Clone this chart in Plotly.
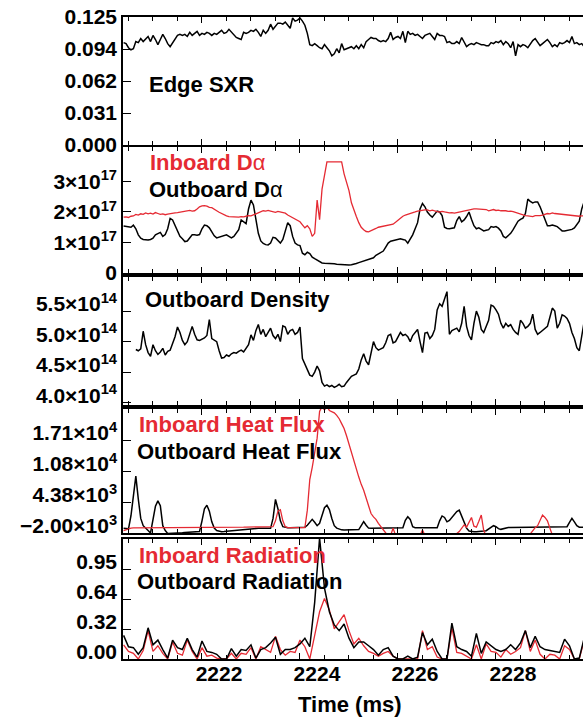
import numpy as np
import plotly.graph_objects as go
from plotly.subplots import make_subplots

# ---------------- data ----------------
T0 = 2220.40
DT_FINE = 0.05
DT_COARSE = 0.10
DENS_T0 = 2220.65

edge_sxr = [
    0.100,0.099,0.095,0.093,0.094,0.101,0.100,0.104,0.101,0.104,
    0.106,0.101,0.107,0.103,0.098,0.103,0.108,0.104,0.099,0.096,
    0.100,0.104,0.107,0.108,0.107,0.108,0.106,0.110,0.107,0.109,
    0.111,0.107,0.109,0.108,0.110,0.109,0.107,0.109,0.108,0.110,
    0.112,0.109,0.110,0.113,0.110,0.107,0.105,0.104,0.103,0.110,
    0.109,0.110,0.112,0.111,0.113,0.110,0.106,0.112,0.109,0.112,
    0.118,0.113,0.116,0.119,0.119,0.118,0.120,0.117,0.114,0.124,
    0.121,0.122,0.124,0.121,0.117,0.109,0.098,0.097,0.099,0.097,
    0.095,0.094,0.098,0.095,0.092,0.087,0.089,0.094,0.090,0.099,
    0.093,0.094,0.095,0.096,0.094,0.097,0.094,0.098,0.095,0.101,
    0.103,0.105,0.104,0.104,0.102,0.101,0.102,0.101,0.104,0.110,
    0.103,0.105,0.106,0.104,0.111,0.100,0.111,0.108,0.109,0.107,
    0.108,0.106,0.104,0.107,0.108,0.109,0.106,0.103,0.109,0.107,
    0.107,0.106,0.100,0.101,0.099,0.099,0.101,0.099,0.105,0.100,
    0.096,0.098,0.099,0.098,0.100,0.099,0.098,0.098,0.097,0.097,
    0.100,0.099,0.101,0.100,0.102,0.098,0.101,0.099,0.095,0.101,
    0.087,0.098,0.096,0.098,0.097,0.095,0.099,0.102,0.104,0.100,
    0.097,0.099,0.101,0.103,0.100,0.096,0.098,0.096,0.100,0.099,
    0.100,0.102,0.100,0.106,0.099,0.100,0.098,0.099,0.096,
]

# D-alpha in units of 1e17
inboard_dalpha = [
    1.83,1.84,1.82,1.86,1.87,1.92,1.90,1.94,1.92,1.97,
    1.94,1.96,1.93,1.98,1.95,1.92,1.94,1.91,1.93,1.95,
    1.96,1.97,1.98,1.99,2.00,2.02,2.04,2.05,2.03,2.04,
    2.10,2.17,2.20,2.21,2.19,2.15,2.14,2.10,2.04,1.99,
    1.95,1.90,1.87,1.85,1.84,1.83,1.84,1.83,1.85,1.84,
    1.86,1.88,1.87,1.90,1.93,1.97,2.01,2.04,2.03,2.05,
    2.03,2.00,1.99,2.02,2.00,1.97,1.96,1.90,1.86,1.82,
    1.78,1.74,1.68,1.58,1.48,1.55,1.45,1.20,1.30,2.39,
    1.75,2.75,3.20,3.64,3.64,3.64,3.64,3.64,3.64,3.64,
    3.25,2.95,2.70,2.30,2.05,1.85,1.65,1.50,1.42,1.36,
    1.35,1.38,1.42,1.46,1.50,1.52,1.54,1.55,1.56,1.58,
    1.60,1.66,1.73,1.80,1.86,1.90,1.92,1.95,1.98,2.00,
    2.03,2.05,2.06,2.07,2.07,2.04,2.06,2.03,2.01,2.00,
    2.02,2.00,1.98,1.97,1.98,1.96,1.98,2.00,2.02,2.04,
    2.06,2.08,2.09,2.10,2.10,2.10,2.09,2.10,2.08,2.04,
    2.07,2.08,2.05,2.06,2.04,2.05,2.04,2.02,2.03,2.01,
    1.98,1.96,1.92,1.90,1.88,1.87,1.86,1.85,1.88,1.87,
    1.88,1.90,1.92,1.95,1.94,1.97,1.95,1.94,1.92,1.91,
    1.90,1.89,1.88,1.87,1.86,1.87,1.86,1.87,1.88,
]
outboard_dalpha = [
    1.54,1.52,1.50,1.50,1.57,1.45,1.25,1.14,1.10,1.08,
    1.08,1.10,1.14,1.25,1.30,1.33,1.20,1.26,1.45,1.79,
    1.74,1.55,1.40,1.20,1.12,1.03,1.05,1.15,1.25,1.25,
    1.24,1.26,1.45,1.57,1.55,1.48,1.35,1.22,1.15,1.17,
    1.20,1.23,1.25,1.20,1.15,1.20,1.30,1.42,1.74,1.68,
    1.62,2.10,2.39,2.23,1.70,1.30,1.05,0.97,0.93,0.92,
    0.98,1.17,1.15,1.08,0.98,1.10,1.35,1.65,1.55,1.20,
    0.98,0.92,0.90,0.65,0.60,0.68,0.64,0.52,0.47,0.42,
    0.36,0.33,0.32,0.32,0.31,0.30,0.30,0.29,0.28,0.27,
    0.27,0.26,0.26,0.27,0.28,0.31,0.34,0.37,0.40,0.43,
    0.45,0.47,0.50,0.58,0.62,0.68,0.72,0.85,0.98,1.04,
    1.06,1.10,1.10,1.12,1.10,1.08,0.98,1.10,1.25,1.45,
    1.65,2.10,2.28,2.17,2.00,1.90,1.83,1.93,2.03,2.00,
    1.88,1.50,1.46,1.45,1.46,1.48,1.72,1.85,1.68,1.74,
    1.85,2.00,1.76,1.55,1.45,1.48,1.43,1.38,1.40,1.42,
    1.52,1.50,1.52,1.47,1.38,1.20,1.15,1.22,1.30,1.42,
    1.58,1.70,1.76,1.80,1.95,2.42,2.35,2.30,2.33,2.33,
    2.17,1.95,1.75,1.55,1.55,1.57,1.55,1.52,1.45,1.38,
    1.38,1.40,1.42,1.43,1.48,1.58,1.70,2.10,2.34,
]

# Outboard density in units of 1e14
outboard_density = [
    4.87,4.85,4.88,5.17,4.95,4.82,4.76,4.95,4.85,4.79,
    4.83,4.89,4.78,4.84,4.86,4.98,5.08,5.24,5.15,5.02,
    4.95,5.00,5.12,5.25,5.12,5.03,5.02,5.04,5.06,5.10,
    5.36,5.05,5.02,5.00,4.85,4.73,4.74,4.78,4.76,4.80,
    4.82,4.81,4.84,4.86,4.83,4.90,4.95,5.11,5.02,5.18,
    5.28,5.12,5.20,5.08,5.15,5.22,5.10,5.05,5.12,5.00,
    5.26,5.24,5.12,5.18,5.20,5.12,5.15,5.24,4.72,4.62,
    4.52,4.45,4.43,4.50,4.60,4.52,4.33,4.27,4.29,4.26,
    4.28,4.25,4.27,4.30,4.26,4.27,4.33,4.39,4.43,4.45,
    4.47,4.55,4.70,4.80,4.68,4.62,4.82,5.00,4.90,4.86,
    4.88,4.90,4.98,5.10,5.12,4.98,5.00,5.08,5.15,5.10,
    5.12,5.08,5.00,5.10,5.16,5.20,5.00,4.82,5.14,5.15,
    5.05,5.10,5.20,5.52,5.62,5.58,5.70,5.82,5.12,5.18,
    5.20,5.22,5.16,5.30,5.58,5.25,5.10,5.03,5.30,5.50,
    5.40,5.20,5.15,5.25,5.35,5.60,5.58,5.52,5.45,5.30,
    5.22,5.30,5.25,5.28,5.20,5.15,5.12,5.35,5.30,5.22,
    5.25,5.30,5.45,5.20,5.12,5.15,5.18,5.22,5.25,5.40,
    5.55,5.50,5.22,5.30,5.44,5.42,5.38,5.30,5.15,5.05,
    4.90,4.85,5.10,5.33,
]

inboard_heat_flux = [
    -1500,-1300,-1100,-1000,-950,-950,-950,-950,-950,-950,
    -950,-950,-950,-950,-950,-950,-950,-950,-950,-950,
    -950,-950,-950,-950,-950,-950,-950,-950,-950,-950,
    -950,-950,-930,-930,-930,-920,-920,-920,-910,-910,
    -900,-900,-900,-880,-870,-860,-850,-840,-830,-800,
    -780,-750,-750,-750,-750,-750,-750,-750,-750,-750,
    -750,-700,500,2500,2800,500,-700,-900,-900,-900,
    -900,-900,-900,-900,-900,2700,9000,11500,14500,17500,
    23000,24000,23300,24000,23200,23000,22700,22200,21500,20500,
    19500,18000,16200,14500,12800,11200,9500,8000,6800,5200,
    3500,2000,1300,800,0,-700,-1500,-2000,-2300,-2500,
    -1000,-2500,-2600,-2600,-2600,-2600,-2600,-2600,-2600,-2600,
    -2600,-2500,-1380,-2500,-2600,-2600,-2600,-2600,-2600,-2600,
    -2600,-2600,-2600,-2600,-2500,-2300,-2100,-1700,-1000,-350,
    -800,300,1200,-600,-800,400,1700,-1500,-2600,-2600,
    -2600,-2600,-2600,-2600,-2600,-2600,-2600,-2600,-2600,-2600,
    -2600,-2600,-2600,-2600,-2600,-2600,-2200,-1500,-900,-500,
    800,1700,1200,500,-1000,-2400,-2600,-2600,-2600,-2600,
    -2600,-2600,-2600,-2600,-2600,-2600,-2600,-2600,-2600,
]
outboard_heat_flux = [
    -1040,-1100,-1150,1500,5500,9700,5000,1000,-500,-1100,
    -1500,-2000,500,3500,4600,3600,-500,-1500,-2100,-2100,
    -2100,-2100,-2050,-2000,-1950,-1900,-1850,-1800,-1780,-1750,
    -1720,-1700,500,3000,3700,2500,300,-1000,-1500,-1650,
    -1720,-1700,-1650,-1600,-1550,-1500,-1450,-1400,-1350,-1300,
    -1250,-1100,-1050,-1050,-1040,-1040,-1040,-1040,-1040,-1040,
    -1040,1000,4900,3000,500,-700,-850,-900,-900,-900,
    -900,-900,-900,-850,-800,-400,300,800,200,-500,
    0,1800,3200,3700,2800,1000,-500,-1000,-1250,-1350,
    -1380,-1380,-1380,-1380,-1380,-1380,-1300,-500,330,-400,
    -1000,-1040,-1040,-1040,-1040,-1040,-1040,-1040,-1040,-1040,
    -1040,-1040,-1040,-1040,-900,600,1350,800,-700,-900,
    -900,-900,-900,-900,-900,-900,-900,-900,-900,500,
    1500,1200,300,600,1200,2000,2400,2700,1500,0,
    -1000,-1600,-1720,-1720,-1720,-1720,-1700,-1600,-1520,-1200,
    -800,-500,-700,-1100,-1250,-1100,-900,-850,-850,-850,
    -850,-850,-850,-850,-850,-850,-850,-850,-850,-850,
    -850,-850,-850,-850,-850,-850,-850,-850,-850,-850,
    -850,-700,200,1000,300,-500,-800,-850,-850,
]

inboard_radiation = [
    0.15,0.08,0.06,0.00,0.09,0.30,0.08,0.14,0.06,0.00,
    0.18,0.06,0.04,0.20,0.08,0.00,0.12,0.03,0.04,0.01,
    0.00,0.00,0.06,0.00,0.06,0.05,0.12,0.00,0.13,0.10,
    0.07,0.24,0.10,0.04,0.08,0.07,0.20,0.13,0.00,0.25,
    0.50,0.64,0.52,0.32,0.39,0.47,0.30,0.16,0.22,0.14,
    0.08,0.06,0.03,0.06,0.08,0.03,0.00,0.00,0.00,0.00,
    0.00,0.30,0.10,0.13,0.02,0.00,0.00,0.33,0.07,0.06,
    0.03,0.00,0.15,0.00,0.16,0.08,0.07,0.02,0.10,0.05,
    0.08,0.12,0.30,0.08,0.20,0.05,0.00,0.05,0.04,0.00,
    0.14,0.10,0.00,0.00,0.20,
]
outboard_radiation = [
    0.25,0.13,0.12,0.05,0.12,0.33,0.15,0.20,0.10,0.01,
    0.20,0.12,0.10,0.22,0.10,0.02,0.19,0.08,0.07,0.05,
    0.00,0.00,0.11,0.03,0.10,0.09,0.15,0.01,0.10,0.12,
    0.17,0.23,0.05,0.10,0.10,0.12,0.16,0.22,0.13,0.60,
    1.28,0.75,0.50,0.36,0.30,0.37,0.22,0.12,0.18,0.18,
    0.14,0.10,0.04,0.10,0.12,0.03,0.00,0.00,0.03,0.00,
    0.02,0.28,0.15,0.21,0.08,0.00,0.00,0.38,0.13,0.10,
    0.08,0.03,0.27,0.06,0.18,0.14,0.10,0.08,0.10,0.15,
    0.10,0.17,0.30,0.12,0.24,0.13,0.10,0.09,0.08,0.07,
    0.21,0.14,0.00,0.01,0.22,
]

# tick definitions
x_tickvals = [2222, 2224, 2226, 2228]
sxr_ticks = [0.0, 0.03125, 0.0625, 0.09375, 0.125]
sxr_labels = ["0.000", "0.031", "0.062", "0.094", "0.125"]
da_ticks = [0, 1, 2, 3]
da_labels = ["0", "1×10<sup>17</sup>", "2×10<sup>17</sup>", "3×10<sup>17</sup>"]
dens_ticks = [4.0, 4.5, 5.0, 5.5]
dens_labels = ["4.0×10<sup>14</sup>", "4.5×10<sup>14</sup>", "5.0×10<sup>14</sup>", "5.5×10<sup>14</sup>"]
hf_ticks = [-2000, 4375, 10750, 17125]
hf_labels = ["−2.00×10<sup>3</sup>", "4.38×10<sup>3</sup>", "1.08×10<sup>4</sup>", "1.71×10<sup>4</sup>"]
rad_ticks = [0.0, 0.3175, 0.635, 0.9525]
rad_labels = ["0.00", "0.32", "0.64", "0.95"]

# ---------------- figure ----------------
t_fine = np.round(T0 + DT_FINE * np.arange(len(edge_sxr)), 3)
t_dens = np.round(DENS_T0 + DT_FINE * np.arange(len(outboard_density)), 3)
t_coarse = np.round(T0 + DT_COARSE * np.arange(len(outboard_radiation)), 3)

RED = "#e52a33"
BLACK = "#000000"
FONT = "Liberation Sans, Arial, sans-serif"

fig = make_subplots(rows=5, cols=1)

fig.add_trace(go.Scatter(x=t_fine, y=edge_sxr, mode="lines", line=dict(color=BLACK, width=1.5)), row=1, col=1)
fig.add_trace(go.Scatter(x=t_fine, y=outboard_dalpha, mode="lines", line=dict(color=BLACK, width=1.5)), row=2, col=1)
fig.add_trace(go.Scatter(x=t_fine, y=inboard_dalpha, mode="lines", line=dict(color=RED, width=1.3)), row=2, col=1)
fig.add_trace(go.Scatter(x=t_dens, y=outboard_density, mode="lines", line=dict(color=BLACK, width=1.5)), row=3, col=1)
fig.add_trace(go.Scatter(x=t_fine, y=outboard_heat_flux, mode="lines", line=dict(color=BLACK, width=1.5)), row=4, col=1)
fig.add_trace(go.Scatter(x=t_fine, y=inboard_heat_flux, mode="lines", line=dict(color=RED, width=1.3)), row=4, col=1)
fig.add_trace(go.Scatter(x=t_coarse, y=inboard_radiation, mode="lines", line=dict(color=RED, width=1.3)), row=5, col=1)
fig.add_trace(go.Scatter(x=t_coarse, y=outboard_radiation, mode="lines", line=dict(color=BLACK, width=1.5)), row=5, col=1)

H = 723.0
panels = [(17, 145), (147, 273), (277, 405), (409, 533), (539, 659)]
yranges = [[0, 0.125], [0, 4.13], [3.96, 6.06], [-2000, 23500], [0, 1.27]]
ytv = [sxr_ticks, da_ticks, dens_ticks, hf_ticks, rad_ticks]
ytt = [sxr_labels, da_labels, dens_labels, hf_labels, rad_labels]
ylabel_shift = [0, 0, -7, -7, -7]

tickfont = dict(family=FONT, size=21, color="black", weight="bold")

for k in range(5):
    top, bot = panels[k]
    yname = "yaxis" if k == 0 else f"yaxis{k+1}"
    xname = "xaxis" if k == 0 else f"xaxis{k+1}"
    ydom = [1 - bot / H, 1 - top / H]
    fig.layout[yname].update(
        domain=ydom, range=yranges[k], automargin=False,
        tickmode="array", tickvals=ytv[k], ticktext=ytt[k],
        ticks="inside", ticklen=8, tickwidth=1.3, tickcolor="black",
        showline=True, linecolor="black", linewidth=1.5, mirror=False,
        showgrid=False, zeroline=False, tickfont=tickfont,
        ticklabelshift=ylabel_shift[k],
    )
    # right-hand tick marks (the right frame edge is cut off by the picture)
    fig.layout[f"yaxis{k+6}"] = dict(
        overlaying="y" if k == 0 else f"y{k+1}", anchor="x" if k == 0 else f"x{k+1}",
        side="right", range=yranges[k], automargin=False,
        tickmode="array", tickvals=ytv[k], showticklabels=False,
        ticks="inside", ticklen=8, tickwidth=1.3, tickcolor="black",
        showline=False, showgrid=False, zeroline=False,
    )
    fig.layout[xname].update(
        domain=[0, 1], range=[2220.388, 2229.776], automargin=False,
        tickmode="array", tickvals=x_tickvals,
        ticktext=[str(v) for v in x_tickvals],
        ticks="inside", ticklen=6, tickwidth=1.3, tickcolor="black",
        minor=dict(dtick=0.5, tick0=2220, ticks="inside", ticklen=4, tickwidth=1, tickcolor="black"),
        showline=True, linecolor="black", linewidth=1.5, mirror="ticks",
        showgrid=False, zeroline=False, showticklabels=(k == 4),
        tickfont=tickfont, ticklabelshift=17, ticklabelstandoff=-5,
    )

ann_font = dict(family=FONT, size=22, weight="bold")
def px2paper(xp, yp):
    return (xp - 123) / 460.0, 1 - yp / H

labels = [
    ("Edge SXR", BLACK, 147, 84),
    ("Inboard D<span style='font-weight:normal'>α</span>", RED, 148, 163),
    ("Outboard D<span style='font-weight:normal'>α</span>", BLACK, 147, 190),
    ("Outboard Density", BLACK, 143, 299),
    ("Inboard Heat Flux", RED, 137, 424),
    ("Outboard Heat Flux", BLACK, 135, 451),
    ("Inboard Radiation", RED, 137, 555),
    ("Outboard Radiation", BLACK, 135, 581),
]
for txt, col, xp, yp in labels:
    xx, yy = px2paper(xp, yp)
    fig.add_annotation(x=xx, y=yy, xref="paper", yref="paper", text=txt, showarrow=False,
                       xanchor="left", yanchor="middle", font=dict(color=col, **ann_font))

xx, yy = px2paper(350, 704)
fig.add_annotation(x=xx, y=yy, xref="paper", yref="paper", text="Time (ms)", showarrow=False,
                   xanchor="center", yanchor="middle", font=dict(color=BLACK, **ann_font))

fig.update_layout(
    width=583, height=723, showlegend=False,
    margin=dict(l=123, r=0, t=0, b=0, autoexpand=False),
    paper_bgcolor="white", plot_bgcolor="white",
    font=dict(family=FONT, color="black"),
)

fig.write_html("out.html")
